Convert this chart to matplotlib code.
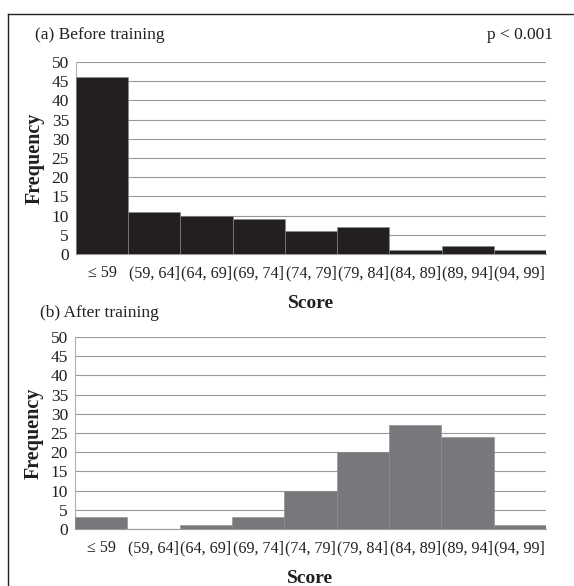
import matplotlib
matplotlib.use('Agg')
import matplotlib.pyplot as plt
from matplotlib.lines import Line2D
import numpy as np

categories = ['\u2264 59', '(59, 64]', '(64, 69]', '(69, 74]', '(74, 79]',
              '(79, 84]', '(84, 89]', '(89, 94]', '(94, 99]']
before_counts = [46, 11, 10, 9, 6, 7, 1, 2, 1]
after_counts = [3, 0, 1, 3, 10, 20, 27, 24, 1]
y_ticks = [0, 5, 10, 15, 20, 25, 30, 35, 40, 45, 50]

plt.rcParams['font.family'] = ['Liberation Serif', 'DejaVu Serif']

W, H = 574, 586
fig = plt.figure(figsize=(W / 100, H / 100), dpi=100)
fig.patch.set_facecolor('white')


def panel(rect, counts, color, title, title_xy):
    # rect is (left, top, right, bottom) in pixels from the top-left corner
    x0, y0, x1, y1 = rect
    ax = fig.add_axes([x0 / W, 1 - y1 / H, (x1 - x0) / W, (y1 - y0) / H])
    x = np.arange(len(categories))
    ax.bar(x, counts, width=1.0, color=color, edgecolor='#8a8a8a',
           linewidth=0.4, zorder=3)
    ax.set_xlim(-0.5, len(categories) - 0.5)
    ax.set_ylim(0, 50)
    ax.set_yticks(y_ticks)
    ax.set_xticks(x)
    ax.set_xticklabels(categories)
    ax.yaxis.grid(True, color='#9a9a9a', linewidth=0.8, zorder=0)
    ax.tick_params(axis='both', length=0, colors='#231f20')
    ax.tick_params(axis='x', pad=8, labelsize=11.6)
    ax.tick_params(axis='y', pad=5, labelsize=12.5)
    for s in ['top', 'right']:
        ax.spines[s].set_visible(False)
    ax.spines['left'].set_color('#b0b0b0')
    ax.spines['left'].set_linewidth(0.8)
    ax.spines['bottom'].set_color('#9a9a9a')
    ax.spines['bottom'].set_linewidth(0.8)
    ax.set_xlabel('Score', fontsize=14, fontweight='bold', color='#231f20',
                  labelpad=10)
    ax.set_ylabel('Frequency', fontsize=14.5, fontweight='bold',
                  color='#231f20', labelpad=5)
    fig.text(title_xy[0] / W, 1 - title_xy[1] / H, title, fontsize=12.5,
             color='#231f20', va='center', ha='left')
    return ax


ax1 = panel((76, 62, 546, 254), before_counts, '#231f20',
            '(a) Before training', (35, 35))
ax2 = panel((75, 337, 546, 529), after_counts, '#77787b',
            '(b) After training', (40, 313))

fig.text(553 / W, 1 - 35 / H, 'p < 0.001', fontsize=12.5, color='#231f20',
         ha='right', va='center')

# outer frame (top and left edges)
fig.add_artist(Line2D([7.5 / W, 1], [1 - 13.5 / H, 1 - 13.5 / H],
                      transform=fig.transFigure, color='#231f20', lw=1.0))
fig.add_artist(Line2D([8 / W, 8 / W], [0, 1 - 13.5 / H],
                      transform=fig.transFigure, color='#231f20', lw=1.0))

fig.savefig('out.png', dpi=100)
